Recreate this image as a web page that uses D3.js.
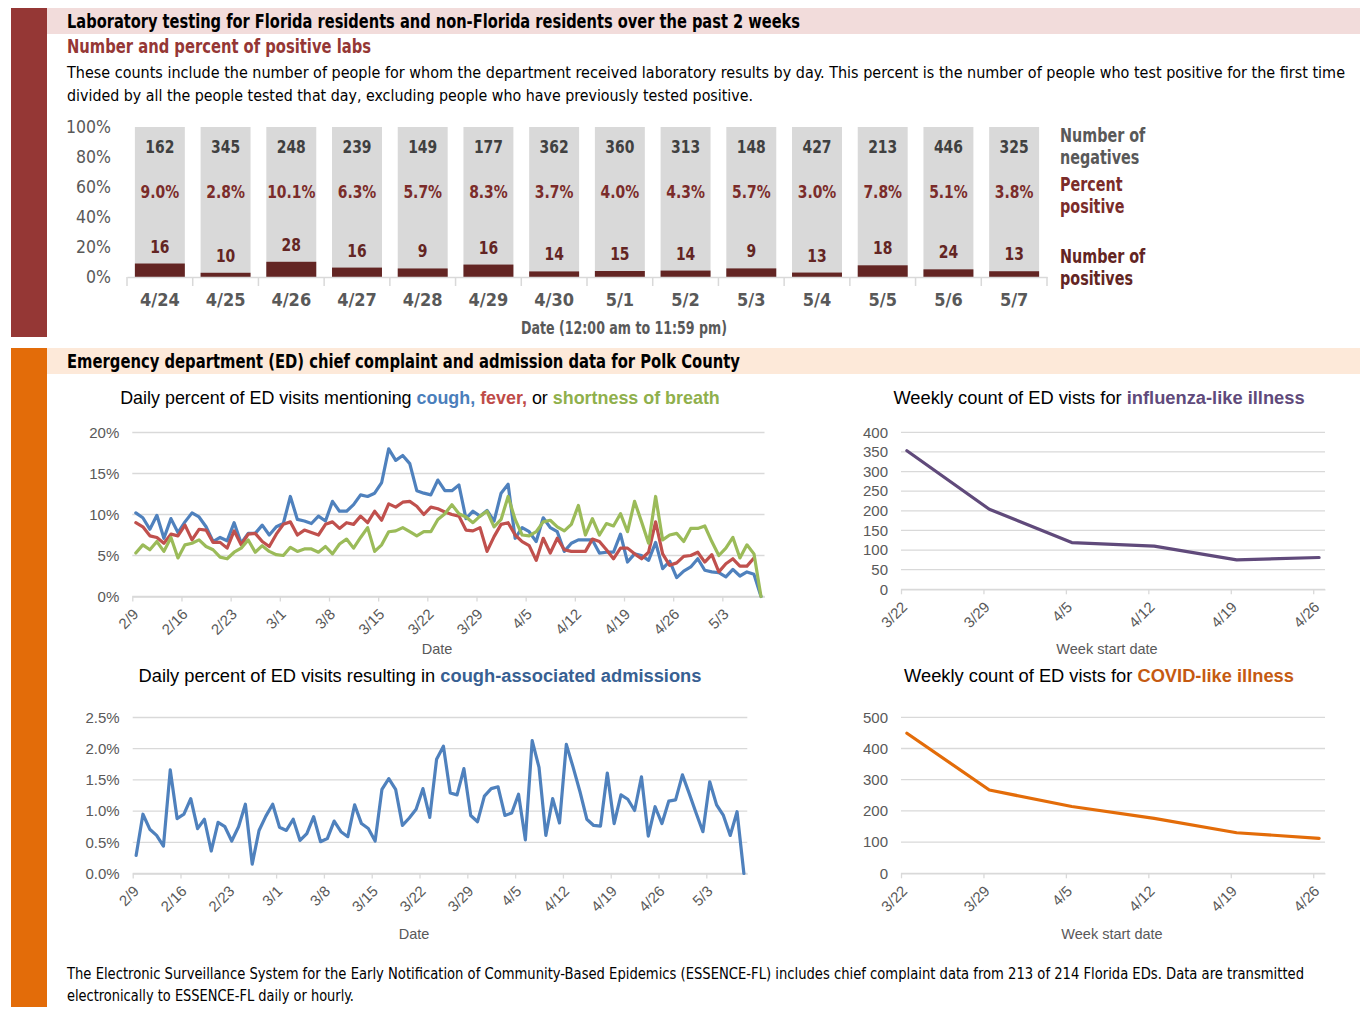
<!DOCTYPE html>
<html>
<head>
<meta charset="utf-8">
<script src="https://cdn.jsdelivr.net/npm/d3@7"></script>
<style>
  body { margin: 0; background: #fff; }
  text { font-family: "Liberation Sans", Arial, sans-serif; }
  .cond { font-family: "DejaVu Sans Condensed", "DejaVu Sans", sans-serif; }
</style>
</head>
<body>
<div id="chart"></div>
<script>
// lab testing, past 2 weeks
const labDates = ['4/24', '4/25', '4/26', '4/27', '4/28', '4/29', '4/30', '5/1', '5/2', '5/3', '5/4', '5/5', '5/6', '5/7']
const labNegatives = [162, 345, 248, 239, 149, 177, 362, 360, 313, 148, 427, 213, 446, 325]
const labPositives = [16, 10, 28, 16, 9, 16, 14, 15, 14, 9, 13, 18, 24, 13]

// daily ED data, 2/9 .. 5/8
const dayTickLabels = ['2/9', '2/16', '2/23', '3/1', '3/8', '3/15', '3/22', '3/29', '4/5', '4/12', '4/19', '4/26', '5/3']
const coughPct = [10.2, 9.6, 8.2, 9.9, 7.1, 9.5, 7.8, 9.1, 10.2, 9.7, 8.5, 6.7, 7.2, 6.8, 9.0, 6.5, 7.7, 7.7, 8.7, 7.5,
    8.5, 8.9, 12.2, 9.4, 9.2, 8.9, 9.8, 9.2, 11.6, 10.4, 10.4, 11.2, 12.4, 12.2, 12.6, 13.9, 18.0, 16.6, 17.2, 16.2,
    12.9, 12.6, 12.4, 14.2, 12.9, 12.9, 13.6, 9.5, 10.4, 9.8, 10.5, 9.2, 12.6, 13.7, 7.1, 8.4, 7.9, 6.7, 9.6, 8.4,
    7.9, 5.5, 6.5, 6.9, 6.9, 6.9, 5.3, 5.4, 5.4, 7.6, 4.2, 5.2, 5.0, 4.4, 6.6, 3.4, 4.3, 2.3, 3.1, 3.6,
    4.6, 3.2, 3.0, 2.9, 2.4, 3.3, 2.5, 3.0, 2.7, 0]
const feverPct = [9.0, 8.5, 7.4, 7.2, 6.5, 7.6, 7.4, 8.7, 6.9, 8.2, 8.1, 6.6, 6.6, 5.9, 8.0, 6.3, 7.6, 7.7, 6.7, 6.1,
    7.6, 8.8, 9.1, 7.5, 8.1, 7.8, 7.5, 8.8, 9.1, 8.3, 9.0, 8.8, 9.8, 9.0, 10.4, 9.3, 11.3, 10.9, 11.5, 11.6,
    11.0, 10.0, 10.9, 10.7, 10.3, 10.0, 9.8, 8.1, 8.0, 8.4, 5.5, 7.3, 8.8, 9.0, 7.5, 6.7, 6.2, 4.4, 7.1, 5.3,
    7.1, 5.7, 5.5, 5.5, 5.5, 7.0, 6.7, 5.7, 4.6, 5.9, 5.9, 5.2, 4.6, 5.4, 9.1, 5.2, 3.8, 4.1, 4.9, 5.0,
    5.4, 4.2, 5.1, 3.0, 4.0, 4.6, 3.7, 3.7, 4.7]
const breathPct = [5.3, 6.3, 5.7, 6.7, 5.5, 7.2, 4.7, 6.3, 6.5, 6.9, 6.1, 5.7, 4.8, 4.6, 5.4, 5.9, 6.9, 5.4, 6.2, 5.5,
    5.1, 5.0, 6.0, 5.5, 5.8, 5.8, 5.4, 6.1, 5.2, 6.4, 7.0, 5.9, 7.2, 8.4, 5.5, 6.3, 7.9, 8.0, 8.4, 7.9,
    7.4, 7.9, 7.9, 9.4, 10.1, 11.2, 10.1, 9.7, 9.0, 9.8, 10.4, 8.5, 9.4, 12.2, 9.4, 7.5, 7.4, 7.9, 9.1, 9.3,
    8.5, 8.0, 8.8, 11.1, 7.5, 9.5, 7.5, 8.9, 8.6, 10.1, 7.9, 11.6, 9.1, 6.5, 12.2, 6.9, 7.5, 7.7, 6.7, 8.3,
    8.3, 8.6, 6.7, 5.0, 5.9, 7.2, 4.7, 6.3, 5.2, 0]
const admitPct = [0.29, 0.95, 0.71, 0.61, 0.44, 1.66, 0.88, 0.95, 1.20, 0.72, 0.87, 0.36, 0.82, 0.75, 0.52, 0.75, 1.11, 0.15, 0.69, 0.92,
    1.11, 0.74, 0.69, 0.87, 0.53, 0.64, 0.91, 0.51, 0.56, 0.84, 0.67, 0.59, 1.10, 0.80, 0.72, 0.52, 1.35, 1.52, 1.35, 0.77,
    0.89, 1.03, 1.36, 0.90, 1.83, 2.04, 1.29, 1.26, 1.68, 0.93, 0.83, 1.24, 1.36, 1.39, 0.93, 0.97, 1.27, 0.54, 2.13, 1.70,
    0.61, 1.20, 0.81, 2.07, 1.70, 1.31, 0.87, 0.77, 0.76, 1.61, 0.80, 1.26, 1.19, 1.01, 1.55, 0.60, 1.07, 0.80, 1.16, 1.18,
    1.58, 1.28, 0.97, 0.67, 1.47, 1.10, 0.93, 0.61, 0.99, 0]

// weekly ED counts
const weekLabels = ['3/22', '3/29', '4/5', '4/12', '4/19', '4/26']
const iliCounts = [353, 204, 119, 110, 75, 81]
const cliCounts = [449, 267, 214, 176, 130, 112]

const W = 1372, H = 1018
const gridColor = '#d9d9d9'
const axisText = '#595959'
const squeeze = 0.86

const svg = d3.select('#chart')
    .append('svg')
    .attr('width', W)
    .attr('height', H)

// condensed text squeezed to a given width
function fitText(x, y, size, width, str, opts = {}) {
    return svg.append('text')
        .attr('class', 'cond')
        .attr('x', x).attr('y', y)
        .attr('font-size', size)
        .attr('font-weight', opts.bold ? 'bold' : 'normal')
        .attr('fill', opts.color || '#000')
        .attr('text-anchor', opts.anchor || 'start')
        .attr('textLength', width)
        .attr('lengthAdjust', 'spacingAndGlyphs')
        .text(str)
}

// ---------- section frames ----------
svg.append('rect').attr('x', 11).attr('y', 8).attr('width', 36).attr('height', 329).attr('fill', '#953735')
svg.append('rect').attr('x', 47).attr('y', 8).attr('width', 1313).attr('height', 26).attr('fill', '#f2dcdb')
fitText(67, 28, 19, 733, 'Laboratory testing for Florida residents and non-Florida residents over the past 2 weeks', { bold: true })
fitText(67, 53, 19, 304, 'Number and percent of positive labs', { bold: true, color: '#953735' })
fitText(67, 78, 15.8, 1278, 'These counts include the number of people for whom the department received laboratory results by day. This percent is the number of people who test positive for the first time')
fitText(67, 101, 15.8, 686, 'divided by all the people tested that day, excluding people who have previously tested positive.')

svg.append('rect').attr('x', 11).attr('y', 348).attr('width', 36).attr('height', 659).attr('fill', '#e36c09')
svg.append('rect').attr('x', 47).attr('y', 348).attr('width', 1313).attr('height', 26).attr('fill', '#fde9d9')
fitText(67, 368, 19, 673, 'Emergency department (ED) chief complaint and admission data for Polk County', { bold: true })

fitText(67, 979, 15, 1237, 'The Electronic Surveillance System for the Early Notification of Community-Based Epidemics (ESSENCE-FL) includes chief complaint data from 213 of 214 Florida EDs. Data are transmitted')
fitText(67, 1001, 15, 287, 'electronically to ESSENCE-FL daily or hourly.')

// ---------- stacked lab bars ----------
const labData = labDates.map((d, i) => {
    const total = labPositives[i] + labNegatives[i]
    return { date: d, pos: labPositives[i], neg: labNegatives[i], share: labPositives[i] / total }
})

const barX = d3.scaleBand()
    .domain(labDates)
    .range([127, 1047])
    .paddingInner(0.24)
    .paddingOuter(0.12)
const barY = d3.scaleLinear().domain([0, 1]).range([277, 127])

const lab = svg.append('g')

lab.selectAll('rect.neg')
    .data(labData)
    .join('rect')
    .attr('class', 'neg')
    .attr('x', d => barX(d.date))
    .attr('y', barY(1))
    .attr('width', barX.bandwidth())
    .attr('height', barY(0) - barY(1))
    .attr('fill', '#d9d9d9')

lab.selectAll('rect.pos')
    .data(labData)
    .join('rect')
    .attr('class', 'pos')
    .attr('x', d => barX(d.date))
    .attr('y', d => barY(d.share))
    .attr('width', barX.bandwidth())
    .attr('height', d => barY(0) - barY(d.share))
    .attr('fill', '#632523')

const mid = d => barX(d.date) + barX.bandwidth() / 2

function barLabels(cls, yOf, color, txt) {
    lab.selectAll('text.' + cls)
        .data(labData)
        .join('text')
        .attr('class', 'cond ' + cls)
        .attr('transform', d => `translate(${mid(d)}, ${yOf(d)}) scale(${squeeze}, 1)`)
        .attr('text-anchor', 'middle')
        .attr('font-size', 18).attr('font-weight', 'bold')
        .attr('fill', color)
        .text(txt)
}
barLabels('negl', d => barY(0.83), '#404040', d => d.neg)
barLabels('pctl', d => barY(0.53), '#7b2c2a', d => d3.format('.1f')(d.share * 100) + '%')
barLabels('posl', d => barY(d.share) - 11, '#632523', d => d.pos)

const labAxis = lab.append('g')
    .attr('transform', `translate(0, ${barY(0)})`)
    .call(d3.axisBottom(barX).tickSize(0).tickPadding(16))
labAxis.select('.domain').attr('stroke', gridColor).attr('stroke-width', 1.5)
labAxis.selectAll('text')
    .attr('class', 'cond')
    .attr('font-size', 18).attr('font-weight', 'bold')
    .attr('fill', axisText)

// boundary ticks between categories
const bounds = labDates.map(d => barX(d) - barX.step() * barX.paddingInner() / 2)
bounds.push(barX.range()[1] - barX.step() * barX.paddingOuter() + barX.step() * barX.paddingInner() / 2)
lab.selectAll('line.btick')
    .data(bounds)
    .join('line')
    .attr('x1', d => d).attr('x2', d => d)
    .attr('y1', barY(0)).attr('y2', barY(0) + 9)
    .attr('stroke', gridColor).attr('stroke-width', 1.5)

const labYAxis = lab.append('g')
    .attr('transform', 'translate(127, 0)')
    .call(d3.axisLeft(barY).tickValues([0, 0.2, 0.4, 0.6, 0.8, 1]).tickFormat(d3.format('.0%')).tickSize(0).tickPadding(16))
labYAxis.select('.domain').remove()
labYAxis.selectAll('text')
    .attr('class', 'cond')
    .attr('font-size', 17.5)
    .attr('fill', axisText)

fitText(624, 334, 17, 206, 'Date (12:00 am to 11:59 pm)', { bold: true, color: axisText, anchor: 'middle' })

const legendLines = [
    { t: 'Number of', y: 142, c: '#595959' },
    { t: 'negatives', y: 164, c: '#595959' },
    { t: 'Percent', y: 191, c: '#7b2c2a' },
    { t: 'positive', y: 213, c: '#7b2c2a' },
    { t: 'Number of', y: 263, c: '#632523' },
    { t: 'positives', y: 285, c: '#632523' }
]
svg.selectAll('text.leg')
    .data(legendLines)
    .join('text')
    .attr('class', 'cond leg')
    .attr('transform', d => `translate(1060, ${d.y}) scale(0.84, 1)`)
    .attr('font-size', 19).attr('font-weight', 'bold')
    .attr('fill', d => d.c)
    .text(d => d.t)

// ---------- line chart helper ----------
function lineChart(opt) {
    const g = svg.append('g')
    const x = d3.scaleLinear().domain([0, opt.days]).range([opt.left, opt.right])
    const y = d3.scaleLinear().domain([0, opt.max]).range([opt.bottom, opt.top])

    g.selectAll('line.grid')
        .data(opt.yTicks)
        .join('line')
        .attr('x1', opt.left).attr('x2', opt.right)
        .attr('y1', d => y(d)).attr('y2', d => y(d))
        .attr('stroke', gridColor).attr('stroke-width', 1.3)

    const yAx = g.append('g')
        .attr('transform', `translate(${opt.left}, 0)`)
        .call(d3.axisLeft(y).tickValues(opt.yTicks).tickFormat(opt.yFormat).tickSize(0).tickPadding(opt.yPad))
    yAx.select('.domain').remove()
    yAx.selectAll('text').attr('font-size', 15).attr('fill', axisText)

    const tickVals = opt.xLabels.map((d, i) => i * 7)
    const xAx = g.append('g')
        .attr('transform', `translate(0, ${opt.bottom})`)
        .call(d3.axisBottom(x).tickValues(tickVals).tickFormat((d, i) => opt.xLabels[i]).tickSize(5).tickSizeOuter(0))
    xAx.select('.domain').attr('stroke', gridColor).attr('stroke-width', 1.3)
    xAx.selectAll('line').attr('stroke', gridColor).attr('stroke-width', 1.3)
    xAx.selectAll('text')
        .attr('font-size', 15).attr('fill', axisText)
        .attr('text-anchor', 'end')
        .attr('dy', '0.35em')
        .attr('transform', 'translate(3, 15) rotate(-45)')
        .attr('y', 0)

    const line = d3.line()
        .x((d, i) => x(i * opt.step + 0.5))
        .y(d => y(d))

    opt.series.forEach(s => {
        g.append('path')
            .datum(s.values)
            .attr('d', line)
            .attr('fill', 'none')
            .attr('stroke', s.color)
            .attr('stroke-width', 3.2)
            .attr('stroke-linejoin', 'round')
            .attr('stroke-linecap', 'round')
    })

    const title = g.append('text')
        .attr('x', opt.titleX).attr('y', opt.titleY)
        .attr('text-anchor', 'middle')
        .attr('font-size', opt.titleSize || 18.3).attr('fill', '#000')
    opt.title.forEach(p => {
        title.append('tspan')
            .attr('fill', p.c || '#000')
            .attr('font-weight', p.b ? 'bold' : 'normal')
            .text(p.t)
    })

    g.append('text')
        .attr('x', opt.axisTitleX).attr('y', opt.axisTitleY)
        .attr('text-anchor', 'middle')
        .attr('font-size', 14.5).attr('fill', axisText)
        .text(opt.axisTitle)
}

lineChart({
    left: 132.3, right: 764.5, top: 432.5, bottom: 596.5,
    days: 90, step: 1, max: 20,
    yTicks: [0, 5, 10, 15, 20], yFormat: d => d + '%', yPad: 13,
    xLabels: dayTickLabels,
    series: [
        { values: coughPct, color: '#4f81bd' },
        { values: feverPct, color: '#c0504d' },
        { values: breathPct, color: '#9bbb59' }
    ],
    titleX: 420, titleY: 404, titleSize: 17.9,
    title: [
        { t: 'Daily percent of ED visits mentioning ' },
        { t: 'cough,', c: '#4a7ebb', b: true },
        { t: ' ' },
        { t: 'fever,', c: '#be4b48', b: true },
        { t: ' or ' },
        { t: 'shortness of breath', c: '#8fb04c', b: true }
    ],
    axisTitle: 'Date', axisTitleX: 437, axisTitleY: 654
})

lineChart({
    left: 132.7, right: 747.3, top: 717.5, bottom: 873.5,
    days: 90, step: 1, max: 2.5,
    yTicks: [0, 0.5, 1, 1.5, 2, 2.5], yFormat: d => d.toFixed(1) + '%', yPad: 13,
    xLabels: dayTickLabels,
    series: [{ values: admitPct, color: '#4f81bd' }],
    titleX: 420, titleY: 682,
    title: [
        { t: 'Daily percent of ED visits resulting in ' },
        { t: 'cough-associated admissions', c: '#376092', b: true }
    ],
    axisTitle: 'Date', axisTitleX: 414, axisTitleY: 939
})

lineChart({
    left: 901, right: 1325, top: 432.3, bottom: 589.3,
    days: 36, step: 7, max: 400,
    yTicks: [0, 50, 100, 150, 200, 250, 300, 350, 400], yFormat: d => d, yPad: 13,
    xLabels: weekLabels,
    series: [{ values: iliCounts, color: '#604a7b' }],
    titleX: 1099, titleY: 404,
    title: [
        { t: 'Weekly count of ED vists for ' },
        { t: 'influenza-like illness', c: '#604a7b', b: true }
    ],
    axisTitle: 'Week start date', axisTitleX: 1107, axisTitleY: 654
})

lineChart({
    left: 901, right: 1325, top: 717.3, bottom: 873.3,
    days: 36, step: 7, max: 500,
    yTicks: [0, 100, 200, 300, 400, 500], yFormat: d => d, yPad: 13,
    xLabels: weekLabels,
    series: [{ values: cliCounts, color: '#e36c09' }],
    titleX: 1099, titleY: 682,
    title: [
        { t: 'Weekly count of ED vists for ' },
        { t: 'COVID-like illness', c: '#c55a11', b: true }
    ],
    axisTitle: 'Week start date', axisTitleX: 1112, axisTitleY: 939
})
</script>
</body>
</html>
